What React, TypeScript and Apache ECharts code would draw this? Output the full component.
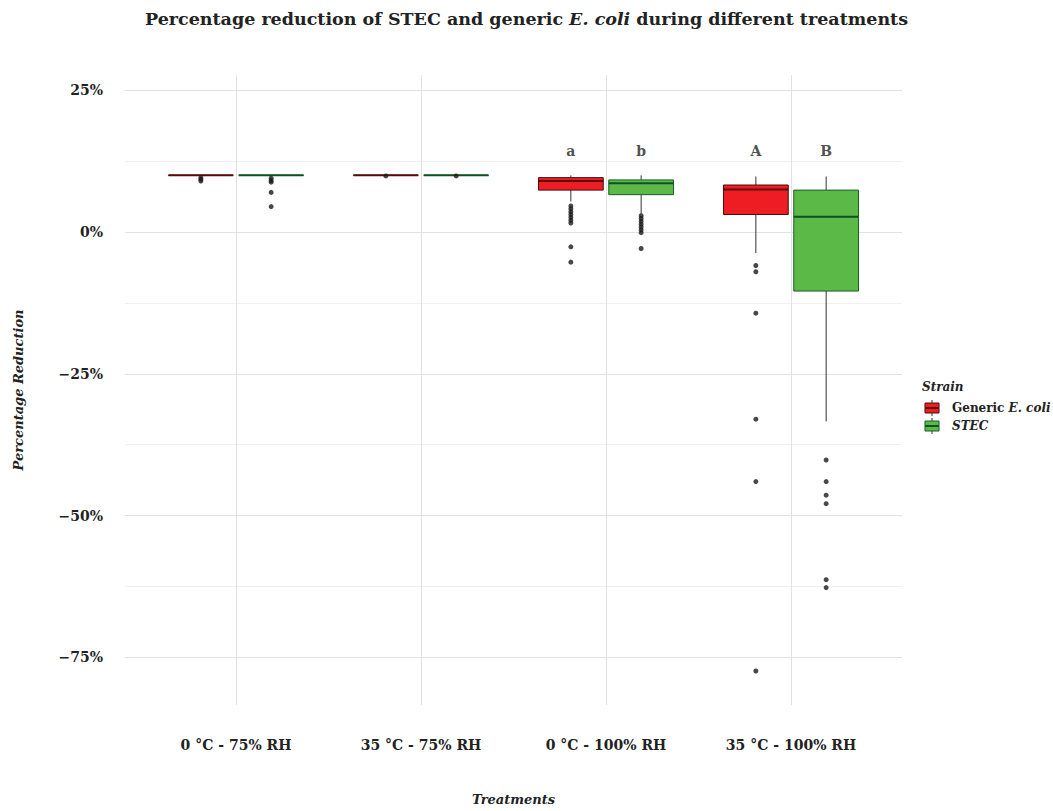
import React, { useEffect, useRef } from "react";
import * as echarts from "echarts";

// ---- data ----
const treatments = ["0 °C - 75% RH", "35 °C - 75% RH", "0 °C - 100% RH", "35 °C - 100% RH"];
const strainNames = ["Generic E. coli", "STEC"];
// [lower whisker, Q1, median, Q3, upper whisker] (percent)
const genericBoxes = [
  [10.0, 10.0, 10.0, 10.0, 10.0],
  [10.0, 10.0, 10.0, 10.0, 10.0],
  [5.4, 7.4, 9.0, 9.6, 10.0],
  [-3.7, 3.1, 7.5, 8.3, 9.8],
];
const stecBoxes = [
  [10.0, 10.0, 10.0, 10.0, 10.0],
  [10.0, 10.0, 10.0, 10.0, 10.0],
  [3.3, 6.6, 8.6, 9.2, 10.0],
  [-33.4, -10.4, 2.7, 7.4, 9.8],
];
const genericOutliers = [
  [9.6, 9.3, 9.0],
  [9.9],
  [4.6, 4.1, 3.6, 3.1, 2.6, 2.1, 1.6, -2.6, -5.3],
  [-5.9, -7.0, -14.3, -33.0, -44.0, -77.4],
];
const stecOutliers = [
  [9.5, 9.1, 8.8, 7.0, 4.5],
  [9.9],
  [2.9, 2.4, 1.9, 1.4, 0.9, 0.4, -0.1, -2.9],
  [-40.2, -44.0, -46.4, -47.9, -61.3, -62.7],
];
const genericLetters = ["", "", "a", "A"];
const stecLetters = ["", "", "b", "B"];
const letterLevel = 14.3;
const yTickValues = [-75, -50, -25, 0, 25];
const yMinorValues = [-62.5, -37.5, -12.5, 12.5];
const xTickValues = [1, 2, 3, 4];

// ---- style ----
const FONT = "'DejaVu Serif', serif";
const TEXT = "#222222";
const RED = "#EE1D24";
const RED_DARK = "#4a0a0c";
const RED_MED = "#5a080b";
const GREEN = "#5BBA47";
const GREEN_DARK = "#1a5e28";
const GREEN_MED = "#0e5222";
const WHISKER = "#333333";
const MAJOR = "#e2e2e2";
const MINOR = "#f0f0f0";
const DODGE = 0.19;
const BOX_W = 0.35;

function boxSeries(name: string, boxes: number[][], offset: number, fill: string, border: string, med: string) {
  return {
    type: "custom",
    name,
    z: 3,
    clip: false,
    data: boxes.map((b, i) => [i + 1 + offset, ...b]),
    encode: { x: 0, y: [1, 2, 3, 4, 5] },
    renderItem: (_params: any, api: any) => {
      const x = api.value(0);
      const pLo = api.coord([x, api.value(1)]);
      const pQ1 = api.coord([x, api.value(2)]);
      const pMed = api.coord([x, api.value(3)]);
      const pQ3 = api.coord([x, api.value(4)]);
      const pHi = api.coord([x, api.value(5)]);
      const w = api.size([BOX_W, 0])[0];
      const left = pQ1[0] - w / 2;
      return {
        type: "group",
        children: [
          { type: "line", shape: { x1: pHi[0], y1: pHi[1], x2: pQ3[0], y2: pQ3[1] }, style: { stroke: WHISKER, lineWidth: 1 } },
          { type: "line", shape: { x1: pQ1[0], y1: pQ1[1], x2: pLo[0], y2: pLo[1] }, style: { stroke: WHISKER, lineWidth: 1 } },
          { type: "rect", shape: { x: left, y: pQ3[1], width: w, height: pQ1[1] - pQ3[1] }, style: { fill, stroke: border, lineWidth: 1 } },
          { type: "line", shape: { x1: left, y1: pMed[1], x2: left + w, y2: pMed[1] }, style: { stroke: med, lineWidth: 2 } },
        ],
      };
    },
  };
}

function outlierSeries(name: string, outs: number[][], offset: number) {
  return {
    type: "scatter",
    name,
    z: 4,
    symbol: "circle",
    symbolSize: 5,
    itemStyle: { color: "#1a1a1a" },
    data: outs.flatMap((arr, i) => arr.map((v) => [i + 1 + offset, v])),
  };
}

function letterSeries(letters: string[], offset: number) {
  return {
    type: "scatter",
    z: 5,
    symbolSize: 0,
    silent: true,
    data: letters
      .map((l, i) => (l ? { value: [i + 1 + offset, letterLevel], name: l } : null))
      .filter(Boolean),
    label: {
      show: true,
      position: "inside",
      formatter: "{b}",
      fontFamily: FONT,
      fontWeight: "bold",
      fontSize: 14,
      color: TEXT,
    },
  };
}

function legendIcon(y: number, fill: string, border: string, med: string) {
  return [
    { type: "line", shape: { x1: 932, y1: y - 3, x2: 932, y2: y + 13 }, style: { stroke: WHISKER, lineWidth: 1 } },
    { type: "rect", shape: { x: 925, y, width: 14, height: 10 }, style: { fill, stroke: border, lineWidth: 1 } },
    { type: "line", shape: { x1: 925, y1: y + 5, x2: 939, y2: y + 5 }, style: { stroke: med, lineWidth: 2 } },
  ];
}

export default function App() {
  const ref = useRef<HTMLDivElement>(null);
  useEffect(() => {
    document.body.style.margin = "0";
    const chart = echarts.init(ref.current!, null, { renderer: "svg" });
    const option: any = {
      animation: false,
      backgroundColor: "#ffffff",
      title: {
        left: "center",
        top: 9,
        padding: 0,
        text: "{b|Percentage reduction of STEC and generic }{i|E. coli}{b| during different treatments}",
        textStyle: {
          rich: {
            b: { fontFamily: FONT, fontWeight: "bold", fontSize: 17.5, color: TEXT, lineHeight: 20 },
            i: { fontFamily: FONT, fontWeight: "bold", fontStyle: "italic", fontSize: 17.5, color: TEXT, lineHeight: 20 },
          },
        },
      },
      grid: { left: 125, right: 151, top: 75, bottom: 106, containLabel: false },
      xAxis: {
        type: "value",
        min: 0.4,
        max: 4.6,
        name: "Treatments",
        nameLocation: "middle",
        nameGap: 88,
        nameTextStyle: { fontFamily: FONT, fontWeight: "bold", fontStyle: "italic", fontSize: 13, color: TEXT },
        axisLine: { show: false },
        axisTick: { show: false },
        splitLine: { show: false },
        axisLabel: {
          customValues: xTickValues,
          formatter: (v: number) => treatments[Math.round(v) - 1] ?? "",
          margin: 33,
          fontFamily: FONT,
          fontWeight: "bold",
          fontSize: 14,
          color: TEXT,
        },
      },
      yAxis: {
        type: "value",
        min: -83.4,
        max: 27.7,
        name: "Percentage Reduction",
        nameLocation: "middle",
        nameGap: 100,
        nameTextStyle: { fontFamily: FONT, fontWeight: "bold", fontStyle: "italic", fontSize: 13, color: TEXT },
        axisLine: { show: false },
        axisTick: { show: false },
        splitLine: { show: false },
        axisLabel: {
          customValues: yTickValues,
          formatter: (v: number) => (v < 0 ? "\u2212" + Math.abs(v) : String(v)) + "%",
          margin: 22,
          fontFamily: FONT,
          fontWeight: "bold",
          fontSize: 14,
          color: TEXT,
        },
      },
      series: [
        {
          type: "scatter",
          z: 0,
          silent: true,
          data: [],
          markLine: {
            z: 0,
            silent: true,
            symbol: "none",
            label: { show: false },
            animation: false,
            data: [
              ...yMinorValues.map((v) => ({ yAxis: v, lineStyle: { color: MINOR, width: 1, type: "solid" } })),
              ...yTickValues.map((v) => ({ yAxis: v, lineStyle: { color: MAJOR, width: 1, type: "solid" } })),
              ...xTickValues.map((v) => ({ xAxis: v, lineStyle: { color: MAJOR, width: 1, type: "solid" } })),
            ],
          },
        },
        boxSeries(strainNames[0], genericBoxes, -DODGE, RED, RED_DARK, RED_MED),
        boxSeries(strainNames[1], stecBoxes, DODGE, GREEN, GREEN_DARK, GREEN_MED),
        outlierSeries(strainNames[0], genericOutliers, -DODGE),
        outlierSeries(strainNames[1], stecOutliers, DODGE),
        letterSeries(genericLetters, -DODGE),
        letterSeries(stecLetters, DODGE),
      ],
      graphic: [
        {
          type: "text",
          left: 922,
          top: 381,
          style: { text: "Strain", fontFamily: FONT, fontWeight: "bold", fontStyle: "italic", fontSize: 12, fill: TEXT },
        },
        ...legendIcon(403, RED, RED_DARK, RED_MED),
        ...legendIcon(421, GREEN, GREEN_DARK, GREEN_MED),
        {
          type: "text",
          x: 952,
          y: 408,
          style: {
            text: "{n|Generic }{i|E. coli}",
            verticalAlign: "middle",
            rich: {
              n: { fontFamily: FONT, fontWeight: "bold", fontSize: 12, fill: TEXT },
              i: { fontFamily: FONT, fontWeight: "bold", fontStyle: "italic", fontSize: 12, fill: TEXT },
            },
          },
        },
        {
          type: "text",
          x: 952,
          y: 426,
          style: { text: "STEC", verticalAlign: "middle", fontFamily: FONT, fontWeight: "bold", fontStyle: "italic", fontSize: 12, fill: TEXT },
        },
      ],
    };
    chart.setOption(option);
    return () => chart.dispose();
  }, []);
  return <div ref={ref} style={{ width: 1053, height: 811 }} />;
}
